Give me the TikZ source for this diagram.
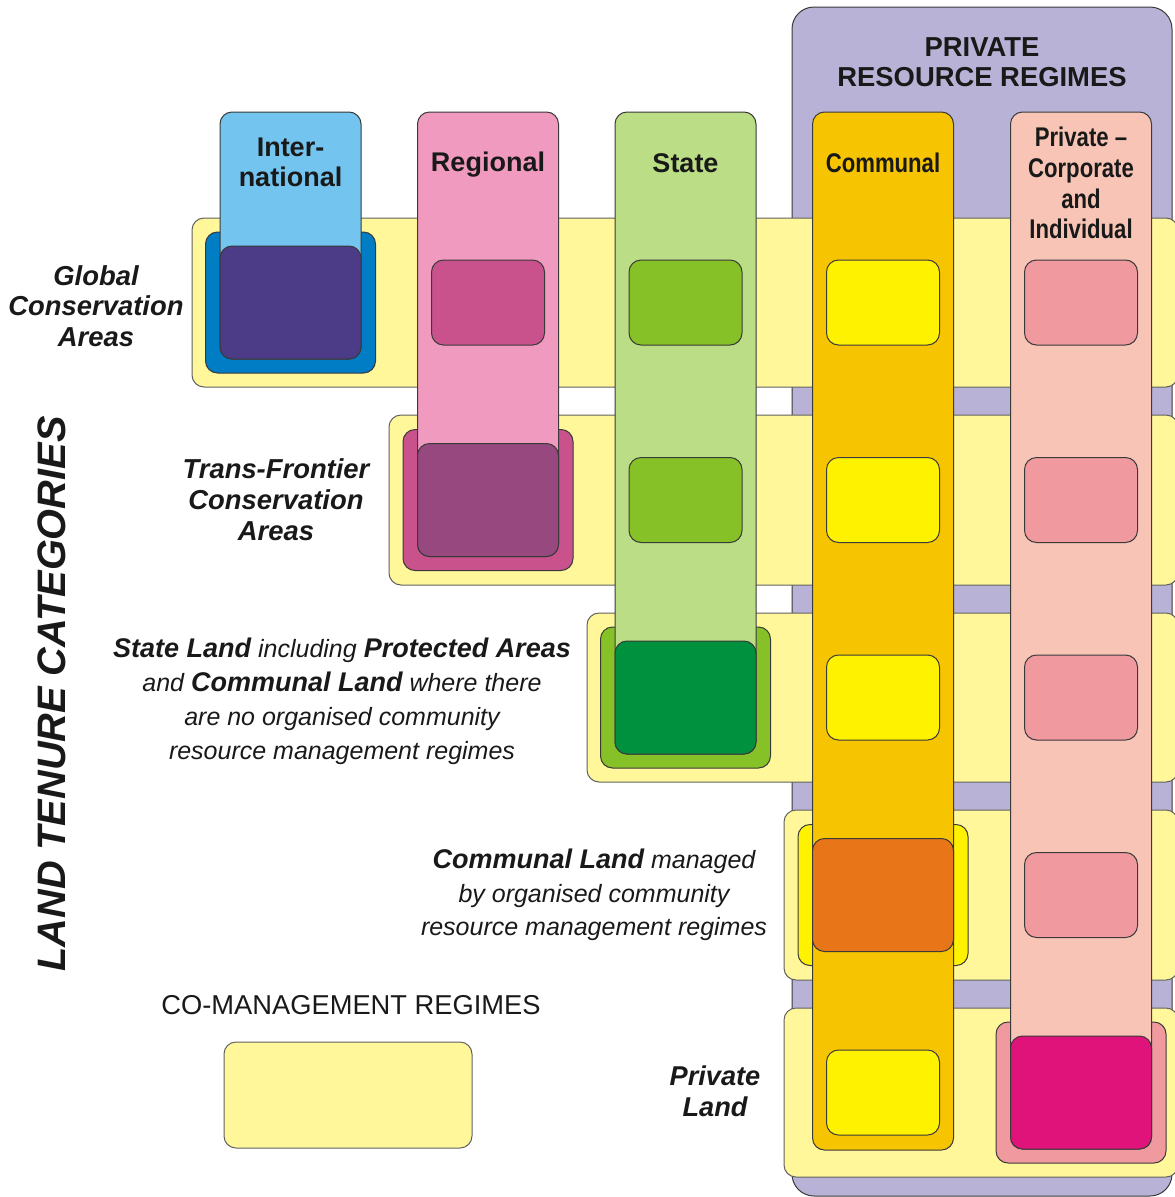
\documentclass[tikz,border=0pt]{standalone}
\usepackage{fontspec}
\setmainfont{Liberation Sans}
\newfontfamily\narrowsf[FakeStretch=0.82]{Liberation Sans}
\definecolor{bgpurple}{HTML}{B8B2D6}
\definecolor{bandyel}{HTML}{FFF799}
\definecolor{intcol}{HTML}{73C4EF}
\definecolor{intring}{HTML}{007DC4}
\definecolor{intdark}{HTML}{4C3C87}
\definecolor{regcol}{HTML}{F19AC0}
\definecolor{regmid}{HTML}{CA528C}
\definecolor{regdark}{HTML}{96487F}
\definecolor{stacol}{HTML}{BBDD85}
\definecolor{stamid}{HTML}{86C227}
\definecolor{stadark}{HTML}{00913F}
\definecolor{comcol}{HTML}{F6C400}
\definecolor{commid}{HTML}{FFF200}
\definecolor{comdark}{HTML}{E87618}
\definecolor{pricol}{HTML}{F7C4B6}
\definecolor{primid}{HTML}{F0999F}
\definecolor{pridark}{HTML}{E0137B}
\definecolor{edgecol}{HTML}{3A3A3A}
\newcommand{\bx}[1]{{\fontsize{27}{34}\selectfont\bfseries #1}}
\tikzset{
  rbox/.style={rectangle, rounded corners=12pt, draw=edgecol, line width=1pt, inner sep=0pt, outer sep=0pt},
  bandbox/.style={rbox, draw=edgecol!80, fill=bandyel},
  ringbox/.style={rbox, minimum width=170pt, minimum height=141pt},
  darkbox/.style={rbox, minimum width=141pt, minimum height=113pt},
  smallbox/.style={rbox, minimum width=113pt, minimum height=85pt},
  colbox/.style={rbox, minimum width=141pt},
  collabel/.style={font=\bfseries\fontsize{27}{30}\selectfont, align=center, text=black!90, inner sep=0pt},
  narrowlabel/.style={font=\narrowsf\bfseries\fontsize{27}{30.7}\selectfont, align=center, text=black!90, inner sep=0pt},
  rowlabel/.style={font=\bfseries\itshape\fontsize{27.4}{30.5}\selectfont, align=center, text=black!90, inner sep=0pt},
  desclabel/.style={font=\itshape\fontsize{25}{34}\selectfont, align=center, text=black!90, inner sep=0pt}
}
\begin{document}
\begin{tikzpicture}[x=1pt,y=-1pt]
\useasboundingbox (0,0) rectangle (1175,1197);
% background of private resource regimes
\node[rbox, rounded corners=22pt, fill=bgpurple, minimum width=380pt, minimum height=1189pt] (prr) at (982,601.5) {};
% row bands
\node[bandbox, minimum width=986pt, minimum height=169pt] (band1) at (685,302.5) {};
\node[bandbox, minimum width=789pt, minimum height=170pt] (band2) at (783.5,500) {};
\node[bandbox, minimum width=591pt, minimum height=169pt] (band3) at (882.5,697.5) {};
\node[bandbox, minimum width=394pt, minimum height=170pt] (band4) at (981,895) {};
\node[bandbox, minimum width=394pt, minimum height=169pt] (band5) at (981,1092.5) {};
\node[bandbox, minimum width=248pt, minimum height=106pt] (legend) at (348,1095) {};
% rings
\node[ringbox, fill=intring] (ring1) at (290.5,302.5) {};
\node[ringbox, fill=regmid] (ring2) at (488,500) {};
\node[ringbox, fill=stamid] (ring3) at (685.5,697.5) {};
\node[ringbox, fill=commid] (ring4) at (883,895) {};
\node[ringbox, fill=primid] (ring5) at (1081,1092.5) {};
% columns
\node[colbox, fill=intcol, minimum height=247pt] (colint) at (290.5,235.5) {};
\node[colbox, fill=regcol, minimum height=444.5pt] (colreg) at (488,334.25) {};
\node[colbox, fill=stacol, minimum height=642pt] (colsta) at (685.5,433) {};
\node[colbox, fill=comcol, minimum height=1038pt] (colcom) at (883,631) {};
\node[colbox, fill=pricol, minimum height=1037pt] (colpri) at (1081,630.5) {};
% small boxes
\node[smallbox, fill=regmid] (reg1) at (488,302.5) {};
\node[smallbox, fill=stamid] (sta1) at (685.5,302.5) {};
\node[smallbox, fill=stamid] (sta2) at (685.5,500) {};
\node[smallbox, fill=commid] (com1) at (883,302.5) {};
\node[smallbox, fill=commid] (com2) at (883,500) {};
\node[smallbox, fill=commid] (com3) at (883,697.5) {};
\node[smallbox, fill=commid] (com5) at (883,1092.5) {};
\node[smallbox, fill=primid] (pri1) at (1081,302.5) {};
\node[smallbox, fill=primid] (pri2) at (1081,500) {};
\node[smallbox, fill=primid] (pri3) at (1081,697.5) {};
\node[smallbox, fill=primid] (pri4) at (1081,895) {};
% dark boxes
\node[darkbox, fill=intdark] (dark1) at (290.5,302.5) {};
\node[darkbox, fill=regdark] (dark2) at (488,500) {};
\node[darkbox, fill=stadark] (dark3) at (685.5,697.5) {};
\node[darkbox, fill=comdark] (dark4) at (883,895) {};
\node[darkbox, fill=pridark] (dark5) at (1081,1092.5) {};
% titles
\node[collabel, font=\bfseries\fontsize{27.4}{30}\selectfont] (prrtitle) at (982,62) {PRIVATE\\RESOURCE REGIMES};
\node[collabel] (lint) at (290.5,162) {Inter-\\national};
\node[collabel] (lreg) at (488,165) {Regional};
\node[collabel] (lsta) at (685.5,163) {State};
\node[narrowlabel] (lcom) at (883,163) {Communal};
\node[narrowlabel] (lpri) at (1081,183) {Private –\\Corporate\\and\\Individual};
% row labels
\node[rowlabel] (rglobal) at (96,306) {Global\\Conservation\\Areas};
\node[rowlabel, font=\bfseries\itshape\fontsize{27.4}{31}\selectfont] (rtrans) at (276,500) {Trans-Frontier\\Conservation\\Areas};
\node[desclabel] (rstate) at (342,701) {\bx{State Land} including \bx{Protected Areas}\\and \bx{Communal Land} where there\\are no organised community\\resource management regimes};
\node[desclabel, font=\itshape\fontsize{25}{33.5}\selectfont] (rcomm) at (594,895) {\bx{Communal Land} managed\\by organised community\\resource management regimes};
\node[rowlabel, font=\bfseries\itshape\fontsize{27.2}{31}\selectfont] (rpriv) at (715,1091) {Private\\Land};
\node[font=\fontsize{27.3}{30}\selectfont, text=black!90, inner sep=0pt] (colegend) at (351,1005) {CO-MANAGEMENT REGIMES};
\node[font=\bfseries\itshape\fontsize{39.7}{44}\selectfont, text=black!90, inner sep=0pt, rotate=90] (ltc) at (52,694) {LAND TENURE CATEGORIES};
\end{tikzpicture}
\end{document}
